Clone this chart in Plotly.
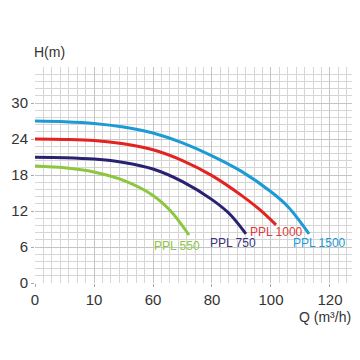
import plotly.graph_objects as go

# Tick labels as printed on the reference
x_tickvals = [20, 40, 60, 80, 100, 120]
x_ticktext = ["0", "10", "60", "80", "100", "120"]
y_tickvals = [0, 6, 12, 18, 24, 30]

# Curves (Q in axis units, H in m)
q_1500 = [20, 30, 40, 50, 60, 70, 80, 90, 100, 106, 112.9]
h_1500 = [27.0, 26.88, 26.6, 26.0, 25.0, 23.35, 21.2, 18.6, 15.2, 12.6, 8.2]

q_1000 = [20, 30, 40, 50, 60, 70, 80, 90, 96, 101.7]
h_1000 = [24.0, 23.93, 23.75, 23.2, 22.2, 20.4, 17.9, 14.6, 12.3, 9.7]

q_750 = [20, 30, 40, 50, 60, 70, 80, 86, 91.5]
h_750 = [20.95, 20.88, 20.65, 20.1, 19.0, 16.9, 13.9, 11.5, 8.2]

q_550 = [20, 30, 40, 50, 60, 66, 72.2]
h_550 = [19.5, 19.2, 18.5, 17.1, 14.6, 12.0, 8.0]

names = ["PPL 1500", "PPL 1000", "PPL 750", "PPL 550"]
colors = ["#1b9ad6", "#e2231f", "#282270", "#8dc63f"]
label_colors = ["#1b9ad6", "#e03a3a", "#3a3380", "#8dc63f"]
label_q = [116.3, 101.9, 87.1, 68.1]
label_h = [6.7, 8.5, 6.7, 6.2]

series = [(q_1500, h_1500), (q_1000, h_1000), (q_750, h_750), (q_550, h_550)]

FONT = "Liberation Sans, Arial"

fig = go.Figure()
for (q, h), n, c in zip(series, names, colors):
    fig.add_trace(go.Scatter(x=q, y=h, mode="lines", name=n,
                             line=dict(color=c, width=3, shape="spline", smoothing=0.9),
                             showlegend=False, hoverinfo="skip"))

for n, c, qx, hy in zip(names, label_colors, label_q, label_h):
    fig.add_annotation(x=qx, y=hy, text=n, showarrow=False,
                       font=dict(size=12, color=c, family=FONT),
                       xanchor="center", yanchor="middle")

fig.add_annotation(xref="paper", yref="paper", x=-0.01, y=1.07, text="H(m)",
                   showarrow=False, xanchor="left", yanchor="middle",
                   font=dict(size=14, color="#333333", family=FONT))
fig.add_annotation(xref="paper", yref="paper", x=1.0, y=-0.157, text="Q (m³/h)",
                   showarrow=False, xanchor="right", yanchor="middle",
                   font=dict(size=14, color="#333333", family=FONT))

grid_minor = "#d6d6d6"
grid_major = "#c4c4c4"

fig.update_xaxes(range=[20, 127.8], tickmode="array", tickvals=x_tickvals, ticktext=x_ticktext,
                 showgrid=True, gridcolor=grid_major, gridwidth=1,
                 ticks="outside", ticklen=3, tickcolor="#aaaaaa",
                 minor=dict(tickmode="linear", tick0=20, dtick=20 / 7, showgrid=True,
                            gridcolor=grid_minor, gridwidth=1),
                 zeroline=False, showline=False, automargin=False,
                 tickfont=dict(size=15, color="#333333", family=FONT))
fig.update_yaxes(range=[0, 36], tickmode="array", tickvals=y_tickvals,
                 showgrid=True, gridcolor=grid_major, gridwidth=1,
                 ticks="outside", ticklen=3, tickcolor="#aaaaaa",
                 minor=dict(tickmode="linear", tick0=0, dtick=1.2, showgrid=True,
                            gridcolor=grid_minor, gridwidth=1),
                 zeroline=False, showline=False, automargin=False,
                 tickfont=dict(size=15, color="#333333", family=FONT))

# page body has an 8px margin, so the figure is shrunk and margins shifted to compensate
fig.update_layout(width=352, height=352, plot_bgcolor="white", paper_bgcolor="white",
                  margin=dict(l=27, r=7, t=59, b=77))

fig.write_html("out.html")
